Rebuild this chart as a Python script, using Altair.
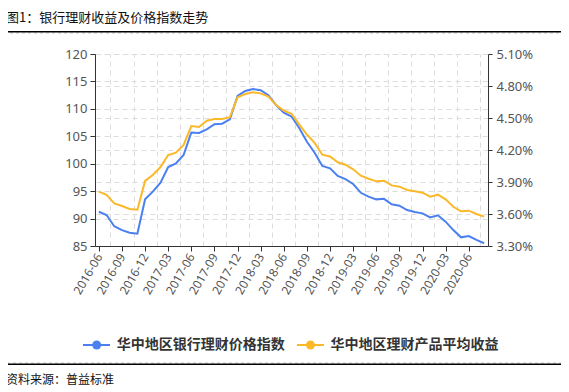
import altair as alt
import pandas as pd

# ---------------- data ----------------
all_months = [f"{y}-{m:02d}" for y in range(2016, 2021) for m in range(1, 13)]
months = all_months[5:56]  # 2016-06 .. 2020-08

price_index = [91.25, 90.65, 88.6, 87.9, 87.43, 87.25, 93.5, 94.9, 96.55, 99.4,
               100.07, 101.6, 105.7, 105.6, 106.27, 107.2, 107.3, 108.1, 112.35, 113.25,
               113.6, 113.4, 112.5, 110.7, 109.3, 108.6, 106.5, 104.0, 102.0, 99.58,
               99.16, 97.76, 97.2, 96.3, 94.7, 94.0, 93.5, 93.6, 92.6, 92.35,
               91.56, 91.2, 90.95, 90.2, 90.6, 89.43, 87.9, 86.58, 86.82, 86.1,
               85.5]
avg_yield = [3.81, 3.78, 3.70, 3.675, 3.647, 3.64, 3.91, 3.966, 4.04, 4.153,
             4.175, 4.247, 4.425, 4.415, 4.475, 4.49, 4.49, 4.507, 4.694, 4.725,
             4.741, 4.731, 4.70, 4.622, 4.57, 4.54, 4.44, 4.345, 4.267, 4.156,
             4.14, 4.085, 4.062, 4.019, 3.959, 3.931, 3.906, 3.912, 3.868, 3.856,
             3.825, 3.813, 3.80, 3.762, 3.781, 3.737, 3.668, 3.625, 3.631, 3.60,
             3.575]

series_names = ["华中地区银行理财价格指数", "华中地区理财产品平均收益"]
series_colors = ["#4B80F0", "#FBB829"]
left_ticks = [85, 90, 95, 100, 105, 110, 115, 120]
right_ticks = [3.3, 3.6, 3.9, 4.2, 4.5, 4.8, 5.1]
title_text = "图1：银行理财收益及价格指数走势"
source_text = "资料来源：普益标准"

df = pd.DataFrame({"idx": list(range(len(months))), "month": months,
                   "price": price_index, "yield": avg_yield})
one = pd.DataFrame({"k": [0]})

# ---------------- layout ----------------
W, H = 393, 192
NUM_FONT = "Noto Sans"
CJK_FONT = "Noto Sans CJK SC"
GRID = "#dcdcdc"
AX = "#333333"
LBL = "#555555"

x_label_vals = list(range(0, len(months), 3))
x_grid_vals = [v + 1.5 for v in range(0, len(months) - 1, 3)]
label_expr = "[" + ",".join(f"'{m}'" for m in months) + "][datum.value]"
xscale = alt.Scale(domain=[-0.5, len(months) - 0.5], nice=False, zero=False)

blue = alt.Chart(df).mark_line(color=series_colors[0], strokeWidth=2).encode(
    x=alt.X("idx:Q", scale=xscale,
            axis=alt.Axis(values=x_label_vals, labelExpr=label_expr, labelAngle=-60,
                          grid=False, title="", tickSize=5, tickColor=AX, domainColor=AX,
                          labelFont=NUM_FONT, labelFontSize=12, labelColor=LBL,
                          labelPadding=3, labelOverlap=False, labelBound=False)),
    y=alt.Y("price:Q", scale=alt.Scale(domain=[85, 120], nice=False, zero=False),
            axis=alt.Axis(orient="left", values=left_ticks, grid=True, gridDash=[5, 4],
                          gridColor=GRID, title="", tickSize=5, tickColor=AX,
                          domainColor=AX, labelFont=NUM_FONT, labelFontSize=13,
                          labelColor=LBL, labelPadding=3)),
)

yellow = alt.Chart(df).mark_line(color=series_colors[1], strokeWidth=2).encode(
    x=alt.X("idx:Q", scale=xscale,
            axis=alt.Axis(orient="top", values=x_grid_vals, grid=True, gridDash=[5, 4],
                          gridColor=GRID, labels=False, ticks=False, domain=False, title="")),
    y=alt.Y("yield:Q", scale=alt.Scale(domain=[3.3, 5.1], nice=False, zero=False),
            axis=alt.Axis(orient="right", values=right_ticks, grid=True, gridDash=[5, 4],
                          gridColor=GRID, title="", tickSize=4, tickColor=AX,
                          domainColor=AX, labelFont=NUM_FONT, labelFontSize=13,
                          labelColor=LBL, labelPadding=4,
                          labelExpr="format(datum.value, '.2f') + '%'")),
)

# ---------------- decorations ----------------
deco = []
deco.append(alt.Chart(one).mark_rect(fillOpacity=0, stroke="#c4c4c4", strokeWidth=1,
                                     strokeDash=[3, 3]).encode(
    x=alt.value(-91), x2=alt.value(467), y=alt.value(-21), y2=alt.value(309)))
deco.append(alt.Chart(one).mark_text(text=title_text, align="left", baseline="middle",
                                     font=CJK_FONT, fontSize=13, color="#111").encode(
    x=alt.value(-89), y=alt.value(-36.5)))
deco.append(alt.Chart(one).mark_rule(color="#000", strokeWidth=1.5).encode(
    x=alt.value(-90), x2=alt.value(467), y=alt.value(-22.3)))
deco.append(alt.Chart(one).mark_rule(color="#000", strokeWidth=1.5).encode(
    x=alt.value(-90), x2=alt.value(467), y=alt.value(310.3)))
deco.append(alt.Chart(one).mark_text(text=source_text, align="left", baseline="middle",
                                     font=CJK_FONT, fontSize=12, color="#111").encode(
    x=alt.value(-89), y=alt.value(325.5)))

legend_pos = [(-12, 15, 1.7, 21.7), (202, 229, 215.5, 235.5)]
for (lx1, lx2, cx, tx), name, col in zip(legend_pos, series_names, series_colors):
    deco.append(alt.Chart(one).mark_rule(color=col, strokeWidth=2).encode(
        x=alt.value(lx1), x2=alt.value(lx2), y=alt.value(291)))
    deco.append(alt.Chart(one).mark_circle(color=col, opacity=1, size=80).encode(
        x=alt.value(cx), y=alt.value(291)))
    deco.append(alt.Chart(one).mark_text(text=name, align="left", baseline="middle",
                                         font=CJK_FONT, fontSize=14, fontWeight="bold",
                                         color="#333").encode(
        x=alt.value(tx), y=alt.value(291)))

chart = alt.layer(blue, yellow, *deco).resolve_scale(y="independent").resolve_axis(
    x="independent").properties(
    width=W, height=H,
    autosize=alt.AutoSizeParams(type="none"),
    padding={"left": 87, "top": 46, "right": 73, "bottom": 146},
    background="white",
).configure_view(strokeWidth=0)

chart.save("out.html", embed_options={"renderer": "svg", "actions": False})
